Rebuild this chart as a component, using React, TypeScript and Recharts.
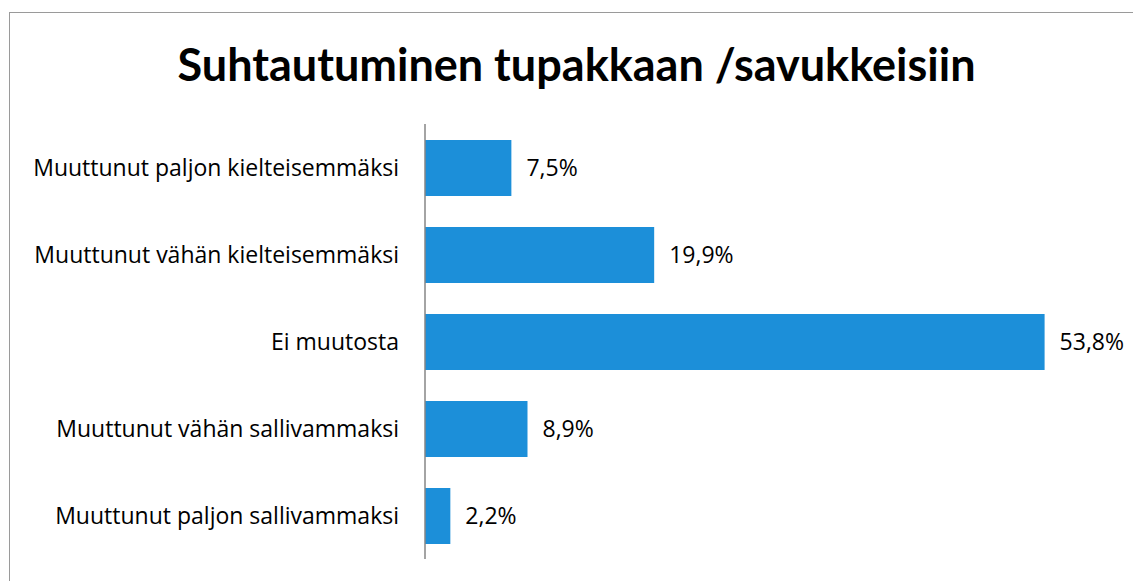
import React from "react";
import { BarChart, Bar, XAxis, YAxis, LabelList } from "recharts";

// kategoriat ylhäältä alas
const categories = [
  "Muuttunut paljon kielteisemmäksi",
  "Muuttunut vähän kielteisemmäksi",
  "Ei muutosta",
  "Muuttunut vähän sallivammaksi",
  "Muuttunut paljon sallivammaksi",
];

// osuudet prosentteina
const shares = [7.5, 19.9, 53.8, 8.9, 2.2];

const TITLE = "Suhtautuminen tupakkaan /savukkeisiin";
const BAR_COLOR = "#1c8fd9";
const TITLE_FONT = "Lato, 'Open Sans', sans-serif";
const FONT = "'Open Sans', Lato, sans-serif";

const data = categories.map((name, i) => ({ name, value: shares[i] }));

const fmt = (v: number) => `${v.toFixed(1).replace(".", ",")}%`;

export default function App() {
  return (
    <div
      style={{
        position: "absolute",
        left: 0,
        top: 0,
        width: 1133,
        height: 581,
        background: "#fff",
        overflow: "hidden",
        fontFamily: FONT,
      }}
    >
      {/* kehys, vain ylä- ja vasen reuna näkyvät */}
      <div
        style={{
          position: "absolute",
          left: 9,
          top: 12,
          width: 1200,
          height: 700,
          borderTop: "1.5px solid #9a9a9a",
          borderLeft: "1.5px solid #9a9a9a",
        }}
      />
      <div
        style={{
          position: "absolute",
          left: 0,
          top: 34,
          width: 1153,
          textAlign: "center",
          fontSize: 45,
          fontWeight: 700,
          fontFamily: TITLE_FONT,
          lineHeight: "60px",
          color: "#000",
        }}
      >
        {TITLE}
      </div>
      <div style={{ position: "absolute", left: 0, top: 0 }}>
        <BarChart
          width={1133}
          height={581}
          data={data}
          layout="vertical"
          margin={{ top: 124, right: 17, bottom: 22, left: 0 }}
        >
          <XAxis type="number" domain={[0, 60]} hide />
          <YAxis
            type="category"
            dataKey="name"
            width={425}
            axisLine={{ stroke: "#868686", strokeWidth: 1.5 }}
            tickLine={false}
            tickMargin={20}
            tick={{ fill: "#000", fontSize: 23, fontFamily: FONT }}
          />
          <Bar dataKey="value" fill={BAR_COLOR} barSize={56} isAnimationActive={false}>
            <LabelList
              dataKey="value"
              position="right"
              offset={15}
              formatter={(v: any) => fmt(Number(v))}
              style={{ fill: "#000", fontSize: 23, fontFamily: FONT }}
            />
          </Bar>
        </BarChart>
      </div>
    </div>
  );
}
